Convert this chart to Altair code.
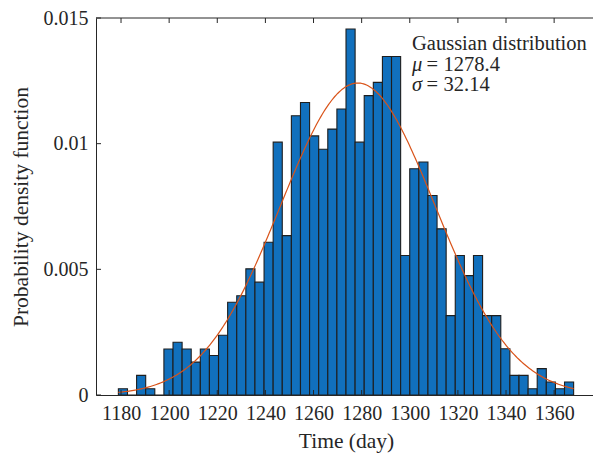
import altair as alt
import numpy as np
import pandas as pd

# Normalised histogram (probability density) of completion times, 50 equal bins
EDGE_FIRST = 1178.9
EDGE_LAST = 1368.1
density = [
    0.00025, 0.0, 0.00078, 0.00025, 0.0, 0.00183, 0.00210, 0.00183, 0.00131, 0.00183,
    0.00157, 0.00238, 0.00369, 0.00395, 0.00502, 0.00449, 0.00608, 0.01006, 0.00634, 0.01111,
    0.01164, 0.01031, 0.00978, 0.01058, 0.01138, 0.01456, 0.01006, 0.01191, 0.01244, 0.01347,
    0.01347, 0.00555, 0.00900, 0.00927, 0.00794, 0.00661, 0.00316, 0.00555, 0.00475, 0.00555,
    0.00316, 0.00316, 0.00184, 0.00078, 0.00078, 0.00025, 0.00105, 0.00052, 0.00025, 0.00052,
]

# Fitted normal distribution
MU = 1278.4
SIGMA = 32.14

x_ticks = [1180, 1200, 1220, 1240, 1260, 1280, 1300, 1320, 1340, 1360]
y_ticks = [0, 0.005, 0.01, 0.015]
X_MIN, X_MAX = 1169.6, 1376.15
Y_MIN, Y_MAX = 0.0, 0.015

W, H = 497, 377
FONT = "Liberation Serif"
INK = "#262626"
BLUE = "#1170BD"
EDGE = "#1E1E1E"
RED = "#D95319"
LABEL_FS = 20
TITLE_FS = 21.5
NOTE_FS = 20.5

edges = np.linspace(EDGE_FIRST, EDGE_LAST, len(density) + 1)
bars_df = pd.DataFrame({
    "left": edges[:-1],
    "right": edges[1:],
    "density": density,
    "base": 0.0,
})

xs = np.linspace(EDGE_FIRST, EDGE_LAST, 300)
curve_df = pd.DataFrame({
    "left": xs,
    "density": np.exp(-0.5 * ((xs - MU) / SIGMA) ** 2) / (SIGMA * np.sqrt(2 * np.pi)),
})

x_scale = alt.Scale(domain=[X_MIN, X_MAX], nice=False, zero=False)
y_scale = alt.Scale(domain=[Y_MIN, Y_MAX], nice=False, zero=False)

bars = alt.Chart(bars_df).mark_rect(
    fill=BLUE, stroke=EDGE, strokeWidth=1.1
).encode(
    x=alt.X(
        "left:Q", scale=x_scale,
        axis=alt.Axis(
            values=x_ticks, format="d", title="Time (day)",
            ticks=False, tickSize=0, domain=True, grid=False,
            labelPadding=8.5, labelFlush=False, labelOverlap=False,
            titleX=250, titleY=52, titleBaseline="alphabetic", titleAlign="center",
            zindex=1,
        ),
    ),
    x2="right:Q",
    y=alt.Y(
        "density:Q", scale=y_scale,
        axis=alt.Axis(
            values=y_ticks, format="~g", title="Probability density function",
            ticks=False, tickSize=0, domain=True, grid=False,
            labelPadding=8, labelFlush=False, labelOverlap=False,
            titleX=-68.5, titleY=H / 2, titleAngle=270,
            titleBaseline="alphabetic", titleAlign="center",
            zindex=1,
        ),
    ),
    y2="base:Q",
)

curve = alt.Chart(curve_df).mark_line(color=RED, strokeWidth=1.2).encode(
    x=alt.X("left:Q", scale=x_scale),
    y=alt.Y("density:Q", scale=y_scale),
)

# Inward-pointing tick marks on the bottom, top and left edges, plus the top frame line
xt_df = pd.DataFrame({"left": x_ticks})
yt_df = pd.DataFrame({"density": y_ticks})
TICK = 5
bottom_ticks = alt.Chart(xt_df).mark_rule(color=INK, strokeWidth=1).encode(
    x=alt.X("left:Q", scale=x_scale), y=alt.value(H), y2=alt.value(H - TICK)
)
top_ticks = alt.Chart(xt_df).mark_rule(color=INK, strokeWidth=1).encode(
    x=alt.X("left:Q", scale=x_scale), y=alt.value(0), y2=alt.value(TICK)
)
left_ticks = alt.Chart(yt_df).mark_rule(color=INK, strokeWidth=1).encode(
    y=alt.Y("density:Q", scale=y_scale), x=alt.value(0), x2=alt.value(TICK)
)
top_frame = alt.Chart(xt_df.head(1)).mark_rule(color=INK, strokeWidth=1).encode(
    x=alt.value(0), x2=alt.value(W), y=alt.value(0)
)

# Fit summary in the upper right corner
notes = [
    ("Gaussian distribution", 316, 32, "normal"),
    ("\u03bc", 316, 52.5, "italic"),
    ("=", 330.5, 52.5, "normal"),
    (f"{MU}", 347.5, 52.5, "normal"),
    ("\u03c3", 316, 72.5, "italic"),
    ("=", 330.5, 72.5, "normal"),
    (f"{SIGMA}", 347.5, 72.5, "normal"),
]
note_layers = [
    alt.Chart(xt_df.head(1)).mark_text(
        text=txt, font=FONT, fontSize=NOTE_FS, fontStyle=style, color=INK,
        align="left", baseline="alphabetic",
    ).encode(x=alt.value(px), y=alt.value(py))
    for txt, px, py, style in notes
]

chart = alt.layer(
    bars, curve, bottom_ticks, top_ticks, left_ticks, top_frame, *note_layers
).properties(
    width=W, height=H,
    autosize=alt.AutoSizeParams(type="none"),
    padding={"left": 96, "top": 18, "right": 0, "bottom": 58},
).configure_view(
    stroke=None
).configure_axis(
    domainColor=INK, domainWidth=1,
    labelFont=FONT, labelFontSize=LABEL_FS, labelColor=INK,
    titleFont=FONT, titleFontSize=TITLE_FS, titleColor=INK, titleFontWeight="normal",
)

chart.save("out.html", embed_options={"renderer": "svg", "actions": False})
